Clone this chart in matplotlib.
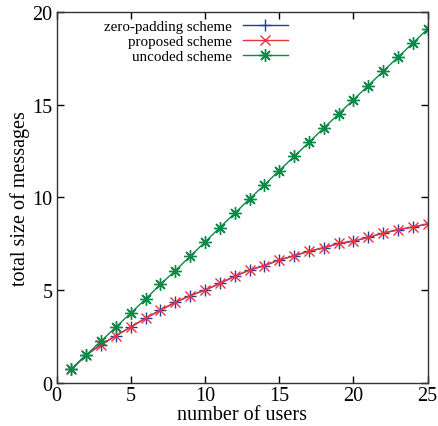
import numpy as np
import matplotlib
matplotlib.use("Agg")
import matplotlib.pyplot as plt

# datos
usuarios = list(range(1, 26))
zero_padding = [0.76, 1.51, 2.07, 2.55, 3.02, 3.49, 3.93, 4.35, 4.71, 5.01,
                5.37, 5.75, 6.09, 6.33, 6.63, 6.86, 7.10, 7.29, 7.52, 7.65,
                7.85, 8.08, 8.26, 8.41, 8.57]
propuesto = [0.76, 1.51, 2.07, 2.55, 3.02, 3.49, 3.93, 4.35, 4.71, 5.01,
             5.37, 5.75, 6.09, 6.33, 6.63, 6.86, 7.10, 7.29, 7.52, 7.65,
             7.85, 8.08, 8.26, 8.41, 8.57]
sin_codificar = [0.76, 1.51, 2.26, 3.02, 3.77, 4.53, 5.32, 6.06, 6.83, 7.60,
                 8.38, 9.15, 9.92, 10.68, 11.45, 12.21, 12.97, 13.74, 14.50, 15.27,
                 16.03, 16.80, 17.56, 18.32, 19.08]

plt.rcParams['font.family'] = ['Liberation Serif', 'DejaVu Serif']

fig = plt.figure(figsize=(4.39, 4.27), dpi=100)
ax = fig.add_axes([0.129, 0.1007, 0.845, 0.8689])

ax.plot(usuarios, zero_padding, color='#2b3a9a', lw=1.0, marker='+', ms=8,
        mew=1.0, label='zero-padding scheme')
ax.plot(usuarios, propuesto, color='#e8323c', lw=1.0, marker='x', ms=7,
        mew=1.0, label='proposed scheme')
ax.plot(usuarios, sin_codificar, color='#0b8a47', lw=1.0, marker=(8, 2, 0), ms=9,
        mew=1.0, label='uncoded scheme')

ax.set_xlim(0, 25)
ax.set_ylim(0, 20)
ax.set_xticks([0, 5, 10, 15, 20, 25])
ax.set_yticks([0, 5, 10, 15, 20])
ax.tick_params(direction='in', top=True, right=True, length=5, width=1,
               labelsize=14.5)
ax.tick_params(axis='y', pad=3)
ax.tick_params(axis='x', pad=2)
for s in ax.spines.values():
    s.set_linewidth(1.0)
    s.set_color('#333333')

ax.set_xlabel('number of users', fontsize=14.5, labelpad=0)
ax.set_ylabel('total size of messages', fontsize=14.5, labelpad=2)

ax.legend(loc='upper left', bbox_to_anchor=(0.10, 1.008), markerfirst=False,
          frameon=False, fontsize=10.8, handlelength=3.0, labelspacing=0.1,
          handletextpad=0.7, borderaxespad=0.3)

fig.savefig('out.png', dpi=100)
